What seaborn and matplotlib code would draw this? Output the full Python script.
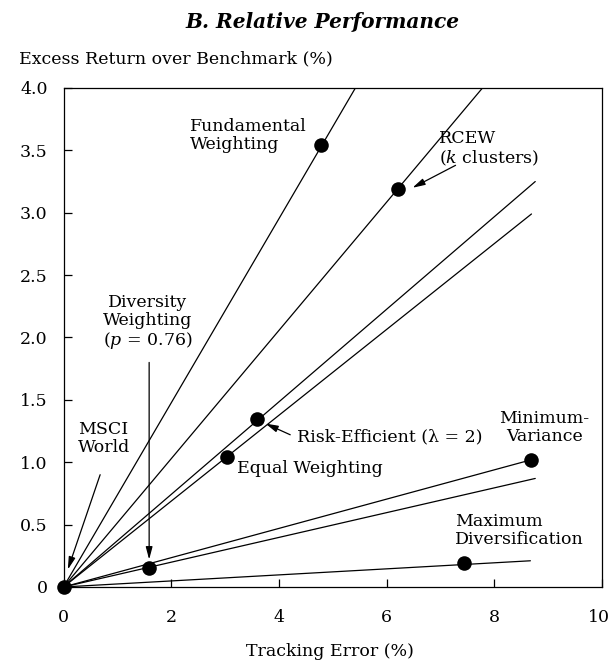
import matplotlib

matplotlib.use("Agg")
import matplotlib.pyplot as plt
import matplotlib.transforms as mtransforms
import pandas as pd
import seaborn as sns

# strategy points (tracking error %, excess return %)
strategies = [
    "MSCI World",
    "Diversity Weighting",
    "Equal Weighting",
    "Risk-Efficient",
    "RCEW",
    "Fundamental Weighting",
    "Minimum-Variance",
    "Maximum Diversification",
]
tracking_error = [0.0, 1.59, 3.04, 3.59, 6.21, 4.79, 8.69, 7.44]
excess_return = [0.0, 0.15, 1.04, 1.35, 3.19, 3.54, 1.02, 0.19]

# rays drawn from the origin, ending where they stop on the chart
ray_names = ["Fundamental", "RCEW", "Risk-Efficient", "Equal", "Min-Var", "Diversity", "Max-Div"]
ray_end_x = [5.42, 7.78, 8.76, 8.69, 8.69, 8.76, 8.67]
ray_end_y = [4.0, 4.0, 3.25, 2.99, 1.02, 0.87, 0.21]

x_ticks = [0, 2, 4, 6, 8, 10]
y_ticks = [0, 0.5, 1.0, 1.5, 2.0, 2.5, 3.0, 3.5, 4.0]
y_tick_labels = ["0", "0.5", "1.0", "1.5", "2.0", "2.5", "3.0", "3.5", "4.0"]

sns.set_style("ticks")
plt.rcParams["font.family"] = ["DejaVu Serif"]
plt.rcParams["mathtext.fontset"] = "dejavuserif"
plt.rcParams["text.color"] = "black"

FS = 12.5

rays = pd.DataFrame(
    {
        "ray": [r for r in ray_names for _ in range(2)],
        "x": [v for e in ray_end_x for v in (0.0, e)],
        "y": [v for e in ray_end_y for v in (0.0, e)],
    }
)

fig = plt.figure(figsize=(6.12, 6.64), dpi=100)
ax = fig.add_axes([0.1038, 0.116, 0.8799, 0.7515])

sns.lineplot(
    data=rays, x="x", y="y", units="ray", estimator=None, sort=False,
    color="black", lw=0.9, ax=ax,
)
sns.scatterplot(
    x=tracking_error, y=excess_return, color="black", s=110,
    edgecolor="black", linewidth=0, zorder=4, clip_on=False, ax=ax,
)

ax.set_xlim(0, 10)
ax.set_ylim(0, 4.0)
ax.set_xticks(x_ticks)
ax.set_xticklabels([str(t) for t in x_ticks])
ax.set_yticks(y_ticks)
ax.set_yticklabels(y_tick_labels)
ax.tick_params(axis="both", direction="in", length=6, width=0.9, labelsize=FS, colors="black")
ax.tick_params(axis="x", pad=16)
ax.tick_params(axis="y", pad=11.5)
for s in ax.spines.values():
    s.set_linewidth(0.9)
    s.set_color("black")
ax.set_xlabel("")
ax.set_ylabel("")

# keep the "10" label inside the figure edge
last = ax.get_xticklabels()[-1]
last.set_transform(last.get_transform() + mtransforms.ScaledTranslation(-3 / 100, 0, fig.dpi_scale_trans))

arrow = dict(arrowstyle="-|>,head_length=0.75,head_width=0.2", color="black", lw=0.9, shrinkA=0, shrinkB=0)

ax.text(2.35, 3.62, "Fundamental\nWeighting", ha="left", va="center", fontsize=FS, linespacing=1.1)
ax.text(6.97, 3.51, "RCEW\n($k$ clusters)", ha="left", va="center", fontsize=FS, linespacing=1.1)
ax.annotate("", xy=(6.48, 3.2), xytext=(7.28, 3.38), arrowprops=arrow)
ax.text(1.57, 2.12, "Diversity\nWeighting\n($p$ = 0.76)", ha="center", va="center", fontsize=FS, linespacing=1.1)
ax.annotate("", xy=(1.59, 0.22), xytext=(1.59, 1.8), arrowprops=arrow)
ax.text(0.27, 1.19, "MSCI\nWorld", ha="left", va="center", fontsize=FS, linespacing=1.1)
ax.annotate("", xy=(0.08, 0.14), xytext=(0.68, 0.9), arrowprops=arrow)
ax.text(4.34, 1.205, "Risk-Efficient (λ = 2)", ha="left", va="center", fontsize=FS)
ax.annotate("", xy=(3.75, 1.31), xytext=(4.21, 1.22), arrowprops=arrow)
ax.text(3.23, 0.95, "Equal Weighting", ha="left", va="center", fontsize=FS)
ax.text(8.93, 1.28, "Minimum-\nVariance", ha="center", va="center", fontsize=FS, linespacing=1.1)
ax.text(7.27, 0.45, "Maximum\nDiversification", ha="left", va="center", fontsize=FS, linespacing=1.1)

fig.text(322 / 612, 1 - 22 / 664, "B. Relative Performance", ha="center", va="center",
         fontsize=14.5, fontweight="bold", fontstyle="italic")
fig.text(19 / 612, 1 - 59 / 664, "Excess Return over Benchmark (%)", ha="left", va="center", fontsize=FS)
fig.text(330 / 612, 1 - 651 / 664, "Tracking Error (%)", ha="center", va="center", fontsize=FS)

fig.savefig("out.png", dpi=100)
plt.close(fig)
